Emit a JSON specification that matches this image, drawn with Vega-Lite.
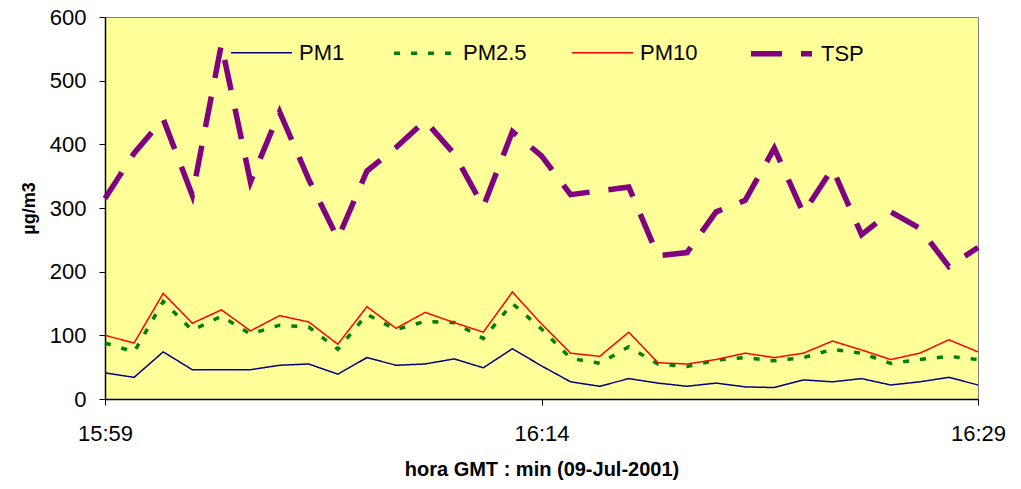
{
  "$schema": "https://vega.github.io/schema/vega-lite/v6.json",
  "autosize": {"type": "none"},
  "width": 873,
  "height": 382,
  "padding": {"left": 105, "top": 17, "right": 43, "bottom": 90},
  "background": "white",
  "config": {
    "view": {"fill": "#FFFF99", "stroke": "#808080", "strokeWidth": 1},
    "font": "Liberation Sans",
    "axis": {
      "domainColor": "black", "domainWidth": 1.5, "tickColor": "black", "tickWidth": 1,
      "labelColor": "black", "titleColor": "black", "labelFont": "Liberation Sans", "titleFont": "Liberation Sans",
      "grid": false
    },
    "legend": {
      "title": null, "orient": "none", "legendX": 125, "legendY": 3,
      "direction": "horizontal", "symbolType": "stroke", "symbolSize": 3721,
      "labelFontSize": 22, "labelColor": "black", "labelFont": "Liberation Sans",
      "labelOffset": 6, "columnPadding": 42, "padding": 0
    }
  },
  "data": {
    "values": [
      {"t": "2001-07-09T15:59:00", "serie": "PM1", "v": 41},
      {"t": "2001-07-09T16:00:00", "serie": "PM1", "v": 34},
      {"t": "2001-07-09T16:01:00", "serie": "PM1", "v": 74},
      {"t": "2001-07-09T16:02:00", "serie": "PM1", "v": 46},
      {"t": "2001-07-09T16:03:00", "serie": "PM1", "v": 46},
      {"t": "2001-07-09T16:04:00", "serie": "PM1", "v": 46},
      {"t": "2001-07-09T16:05:00", "serie": "PM1", "v": 53},
      {"t": "2001-07-09T16:06:00", "serie": "PM1", "v": 55},
      {"t": "2001-07-09T16:07:00", "serie": "PM1", "v": 39},
      {"t": "2001-07-09T16:08:00", "serie": "PM1", "v": 65},
      {"t": "2001-07-09T16:09:00", "serie": "PM1", "v": 53},
      {"t": "2001-07-09T16:10:00", "serie": "PM1", "v": 55},
      {"t": "2001-07-09T16:11:00", "serie": "PM1", "v": 63},
      {"t": "2001-07-09T16:12:00", "serie": "PM1", "v": 49},
      {"t": "2001-07-09T16:13:00", "serie": "PM1", "v": 79},
      {"t": "2001-07-09T16:14:00", "serie": "PM1", "v": 52},
      {"t": "2001-07-09T16:15:00", "serie": "PM1", "v": 27},
      {"t": "2001-07-09T16:16:00", "serie": "PM1", "v": 20},
      {"t": "2001-07-09T16:17:00", "serie": "PM1", "v": 32},
      {"t": "2001-07-09T16:18:00", "serie": "PM1", "v": 25},
      {"t": "2001-07-09T16:19:00", "serie": "PM1", "v": 20},
      {"t": "2001-07-09T16:20:00", "serie": "PM1", "v": 25},
      {"t": "2001-07-09T16:21:00", "serie": "PM1", "v": 19},
      {"t": "2001-07-09T16:22:00", "serie": "PM1", "v": 18},
      {"t": "2001-07-09T16:23:00", "serie": "PM1", "v": 30},
      {"t": "2001-07-09T16:24:00", "serie": "PM1", "v": 27},
      {"t": "2001-07-09T16:25:00", "serie": "PM1", "v": 32},
      {"t": "2001-07-09T16:26:00", "serie": "PM1", "v": 22},
      {"t": "2001-07-09T16:27:00", "serie": "PM1", "v": 27},
      {"t": "2001-07-09T16:28:00", "serie": "PM1", "v": 34},
      {"t": "2001-07-09T16:29:00", "serie": "PM1", "v": 22},
      {"t": "2001-07-09T15:59:00", "serie": "PM2.5", "v": 88},
      {"t": "2001-07-09T16:00:00", "serie": "PM2.5", "v": 74},
      {"t": "2001-07-09T16:01:00", "serie": "PM2.5", "v": 153},
      {"t": "2001-07-09T16:02:00", "serie": "PM2.5", "v": 108},
      {"t": "2001-07-09T16:03:00", "serie": "PM2.5", "v": 130},
      {"t": "2001-07-09T16:04:00", "serie": "PM2.5", "v": 102},
      {"t": "2001-07-09T16:05:00", "serie": "PM2.5", "v": 116},
      {"t": "2001-07-09T16:06:00", "serie": "PM2.5", "v": 113},
      {"t": "2001-07-09T16:07:00", "serie": "PM2.5", "v": 78},
      {"t": "2001-07-09T16:08:00", "serie": "PM2.5", "v": 133},
      {"t": "2001-07-09T16:09:00", "serie": "PM2.5", "v": 109},
      {"t": "2001-07-09T16:10:00", "serie": "PM2.5", "v": 122},
      {"t": "2001-07-09T16:11:00", "serie": "PM2.5", "v": 120},
      {"t": "2001-07-09T16:12:00", "serie": "PM2.5", "v": 95},
      {"t": "2001-07-09T16:13:00", "serie": "PM2.5", "v": 150},
      {"t": "2001-07-09T16:14:00", "serie": "PM2.5", "v": 110},
      {"t": "2001-07-09T16:15:00", "serie": "PM2.5", "v": 64},
      {"t": "2001-07-09T16:16:00", "serie": "PM2.5", "v": 56},
      {"t": "2001-07-09T16:17:00", "serie": "PM2.5", "v": 82},
      {"t": "2001-07-09T16:18:00", "serie": "PM2.5", "v": 55},
      {"t": "2001-07-09T16:19:00", "serie": "PM2.5", "v": 51},
      {"t": "2001-07-09T16:20:00", "serie": "PM2.5", "v": 61},
      {"t": "2001-07-09T16:21:00", "serie": "PM2.5", "v": 65},
      {"t": "2001-07-09T16:22:00", "serie": "PM2.5", "v": 60},
      {"t": "2001-07-09T16:23:00", "serie": "PM2.5", "v": 65},
      {"t": "2001-07-09T16:24:00", "serie": "PM2.5", "v": 78},
      {"t": "2001-07-09T16:25:00", "serie": "PM2.5", "v": 72},
      {"t": "2001-07-09T16:26:00", "serie": "PM2.5", "v": 56},
      {"t": "2001-07-09T16:27:00", "serie": "PM2.5", "v": 62},
      {"t": "2001-07-09T16:28:00", "serie": "PM2.5", "v": 67},
      {"t": "2001-07-09T16:29:00", "serie": "PM2.5", "v": 62},
      {"t": "2001-07-09T15:59:00", "serie": "PM10", "v": 100},
      {"t": "2001-07-09T16:00:00", "serie": "PM10", "v": 88},
      {"t": "2001-07-09T16:01:00", "serie": "PM10", "v": 166},
      {"t": "2001-07-09T16:02:00", "serie": "PM10", "v": 119},
      {"t": "2001-07-09T16:03:00", "serie": "PM10", "v": 140},
      {"t": "2001-07-09T16:04:00", "serie": "PM10", "v": 107},
      {"t": "2001-07-09T16:05:00", "serie": "PM10", "v": 131},
      {"t": "2001-07-09T16:06:00", "serie": "PM10", "v": 121},
      {"t": "2001-07-09T16:07:00", "serie": "PM10", "v": 86},
      {"t": "2001-07-09T16:08:00", "serie": "PM10", "v": 145},
      {"t": "2001-07-09T16:09:00", "serie": "PM10", "v": 111},
      {"t": "2001-07-09T16:10:00", "serie": "PM10", "v": 136},
      {"t": "2001-07-09T16:11:00", "serie": "PM10", "v": 120},
      {"t": "2001-07-09T16:12:00", "serie": "PM10", "v": 105},
      {"t": "2001-07-09T16:13:00", "serie": "PM10", "v": 168},
      {"t": "2001-07-09T16:14:00", "serie": "PM10", "v": 118},
      {"t": "2001-07-09T16:15:00", "serie": "PM10", "v": 72},
      {"t": "2001-07-09T16:16:00", "serie": "PM10", "v": 67},
      {"t": "2001-07-09T16:17:00", "serie": "PM10", "v": 105},
      {"t": "2001-07-09T16:18:00", "serie": "PM10", "v": 57},
      {"t": "2001-07-09T16:19:00", "serie": "PM10", "v": 55},
      {"t": "2001-07-09T16:20:00", "serie": "PM10", "v": 62},
      {"t": "2001-07-09T16:21:00", "serie": "PM10", "v": 72},
      {"t": "2001-07-09T16:22:00", "serie": "PM10", "v": 65},
      {"t": "2001-07-09T16:23:00", "serie": "PM10", "v": 72},
      {"t": "2001-07-09T16:24:00", "serie": "PM10", "v": 91},
      {"t": "2001-07-09T16:25:00", "serie": "PM10", "v": 77},
      {"t": "2001-07-09T16:26:00", "serie": "PM10", "v": 62},
      {"t": "2001-07-09T16:27:00", "serie": "PM10", "v": 72},
      {"t": "2001-07-09T16:28:00", "serie": "PM10", "v": 93},
      {"t": "2001-07-09T16:29:00", "serie": "PM10", "v": 74},
      {"t": "2001-07-09T15:59:00", "serie": "TSP", "v": 315},
      {"t": "2001-07-09T16:00:00", "serie": "TSP", "v": 386},
      {"t": "2001-07-09T16:01:00", "serie": "TSP", "v": 440},
      {"t": "2001-07-09T16:02:00", "serie": "TSP", "v": 320},
      {"t": "2001-07-09T16:03:00", "serie": "TSP", "v": 557},
      {"t": "2001-07-09T16:04:00", "serie": "TSP", "v": 341},
      {"t": "2001-07-09T16:05:00", "serie": "TSP", "v": 451},
      {"t": "2001-07-09T16:06:00", "serie": "TSP", "v": 345},
      {"t": "2001-07-09T16:07:00", "serie": "TSP", "v": 252},
      {"t": "2001-07-09T16:08:00", "serie": "TSP", "v": 358},
      {"t": "2001-07-09T16:09:00", "serie": "TSP", "v": 395},
      {"t": "2001-07-09T16:10:00", "serie": "TSP", "v": 437},
      {"t": "2001-07-09T16:11:00", "serie": "TSP", "v": 385},
      {"t": "2001-07-09T16:12:00", "serie": "TSP", "v": 302},
      {"t": "2001-07-09T16:13:00", "serie": "TSP", "v": 420},
      {"t": "2001-07-09T16:14:00", "serie": "TSP", "v": 382},
      {"t": "2001-07-09T16:15:00", "serie": "TSP", "v": 321},
      {"t": "2001-07-09T16:16:00", "serie": "TSP", "v": 327},
      {"t": "2001-07-09T16:17:00", "serie": "TSP", "v": 333},
      {"t": "2001-07-09T16:18:00", "serie": "TSP", "v": 225},
      {"t": "2001-07-09T16:19:00", "serie": "TSP", "v": 230},
      {"t": "2001-07-09T16:20:00", "serie": "TSP", "v": 294},
      {"t": "2001-07-09T16:21:00", "serie": "TSP", "v": 312},
      {"t": "2001-07-09T16:22:00", "serie": "TSP", "v": 394},
      {"t": "2001-07-09T16:23:00", "serie": "TSP", "v": 292},
      {"t": "2001-07-09T16:24:00", "serie": "TSP", "v": 362},
      {"t": "2001-07-09T16:25:00", "serie": "TSP", "v": 258},
      {"t": "2001-07-09T16:26:00", "serie": "TSP", "v": 294},
      {"t": "2001-07-09T16:27:00", "serie": "TSP", "v": 268},
      {"t": "2001-07-09T16:28:00", "serie": "TSP", "v": 208},
      {"t": "2001-07-09T16:29:00", "serie": "TSP", "v": 238}
    ]
  },
  "mark": {"type": "line", "strokeCap": "butt", "strokeJoin": "miter"},
  "encoding": {
    "x": {
      "field": "t", "type": "temporal",
      "scale": {"domain": [{"year": 2001, "month": 7, "date": 9, "hours": 15, "minutes": 59}, {"year": 2001, "month": 7, "date": 9, "hours": 16, "minutes": 29}]},
      "axis": {
        "title": "hora GMT : min (09-Jul-2001)",
        "values": [
          {"year": 2001, "month": 7, "date": 9, "hours": 15, "minutes": 59},
          {"year": 2001, "month": 7, "date": 9, "hours": 16, "minutes": 14},
          {"year": 2001, "month": 7, "date": 9, "hours": 16, "minutes": 29}
        ],
        "format": "%H:%M",
        "labelFontSize": 22, "labelPadding": 18, "tickSize": 6,
        "labelFlush": false, "labelOverlap": false,
        "titleFontSize": 20, "titleFontWeight": "bold", "titlePadding": 15
      }
    },
    "y": {
      "field": "v", "type": "quantitative",
      "scale": {"domain": [0, 600]},
      "axis": {
        "title": "µg/m3",
        "values": [0, 100, 200, 300, 400, 500, 600],
        "labelFontSize": 22, "labelPadding": 13, "tickSize": 6,
        "titleFontSize": 18, "titleFontWeight": "bold", "titlePadding": 11
      }
    },
    "color": {
      "field": "serie", "type": "nominal",
      "scale": {"domain": ["PM1", "PM2.5", "PM10", "TSP"], "range": ["#000080", "#008000", "#FF0000", "#800080"]}
    },
    "strokeDash": {
      "field": "serie", "type": "nominal",
      "scale": {"domain": ["PM1", "PM2.5", "PM10", "TSP"], "range": [[1, 0], [6, 11], [1, 0], [31, 19]]}
    },
    "strokeWidth": {
      "field": "serie", "type": "nominal",
      "scale": {"type": "ordinal", "domain": ["PM1", "PM2.5", "PM10", "TSP"], "range": [1.5, 3.5, 1.5, 5.5]}
    }
  }
}
